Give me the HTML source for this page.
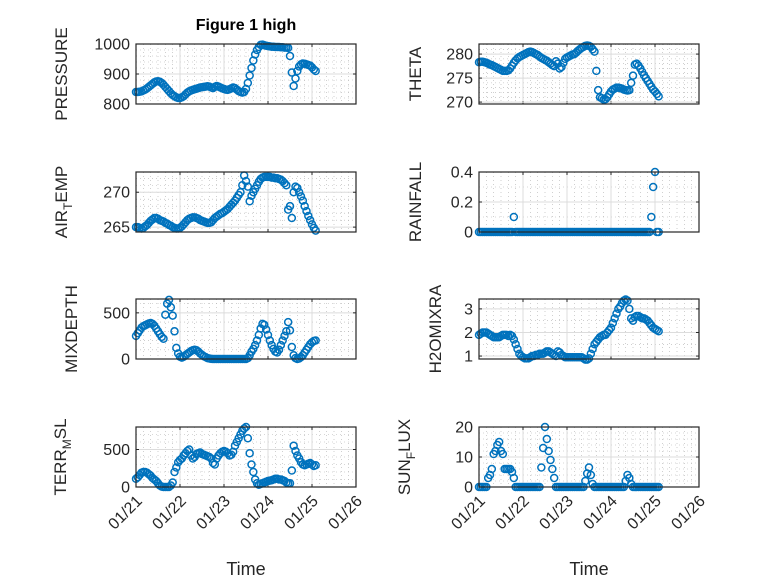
<!DOCTYPE html>
<html><head><meta charset="utf-8"><style>
body{margin:0;background:#fff;}
svg{display:block;font-family:"Liberation Sans",sans-serif;}
</style></head><body>
<svg id="fig" width="778" height="583" viewBox="0 0 778 583">
<rect width="778" height="583" fill="#fff"/>
<text x="246" y="30" font-size="16" font-weight="bold" text-anchor="middle" fill="#000">Figure 1 high</text>
</svg>
<script>
const dayTicks = ["01/21","01/22","01/23","01/24","01/25","01/26"];
const pressure = [840,840,841,842,845,848,852,857,862,867,872,875,876,874,870,864,857,850,843,836,830,826,822,820,
820,822,826,832,838,842,845,847,849,851,853,855,856,857,858,859,858,855,853,857,860,858,855,852,
850,848,847,849,852,855,853,848,843,840,838,840,850,870,895,920,945,965,980,990,997,998,996,994,
993,992,991,991,990,990,990,989,989,988,988,987,960,905,860,885,910,925,932,935,934,932,930,928,922,915,910];
const theta = [278.3,278.4,278.4,278.3,278.2,278.0,277.8,277.7,277.5,277.3,277.1,276.9,276.7,276.5,276.5,276.5,276.6,277.0,277.6,278.2,278.7,279.1,279.4,279.6,
279.8,280.0,280.2,280.4,280.5,280.4,280.2,280.0,279.8,279.5,279.2,279.0,278.8,278.6,278.3,278.0,277.7,277.5,278.5,278.0,277.0,277.3,278.2,279.0,
279.3,279.5,279.7,279.9,280.0,280.3,280.7,281.0,281.3,281.5,281.7,281.8,281.7,281.5,281.0,280.5,276.5,272.5,271.0,270.8,270.5,270.6,271.0,271.6,
272.2,272.6,272.8,273.0,273.0,272.9,272.8,272.6,272.5,272.4,272.5,274.0,275.5,277.8,278.0,277.6,277.0,276.3,275.6,275.0,274.4,273.8,273.2,272.6,272.2,271.7,271.2];
const airTemp = [265.0,265.0,264.9,264.8,264.9,265.1,265.3,265.6,265.9,266.1,266.3,266.3,266.2,266.0,265.9,265.8,265.6,265.5,265.3,265.2,265.0,264.9,264.8,264.8,
264.9,265.1,265.4,265.7,266.0,266.2,266.3,266.4,266.4,266.3,266.2,266.0,265.9,265.8,265.7,265.6,265.6,265.7,266.0,266.3,266.5,266.7,266.9,267.0,
267.2,267.4,267.6,267.9,268.2,268.5,268.8,269.2,269.6,270.0,271.0,272.4,271.6,270.8,268.7,269.5,270.0,270.5,271.0,271.5,271.9,272.1,272.2,272.2,
272.2,272.2,272.1,272.1,272.0,272.0,271.9,271.8,271.6,271.3,271.0,267.5,268.0,266.3,270.0,270.8,270.6,270.0,269.4,268.8,268.0,267.3,266.6,266.0,265.4,264.9,264.5];
const rainfall = [0,0,0,0,0,0,0,0,0,0,0,0,0,0,0,0,0,0,0,0.1,0,0,0,0,
0,0,0,0,0,0,0,0,0,0,0,0,0,0,0,0,0,0,0,0,0,0,0,0,
0,0,0,0,0,0,0,0,0,0,0,0,0,0,0,0,0,0,0,0,0,0,0,0,
0,0,0,0,0,0,0,0,0,0,0,0,0,0,0,0,0,0,0,0,0,0,0.1,0.3,0.4,0,0];
const mixDepth = [250,280,310,340,355,365,375,385,390,380,360,330,300,270,240,220,480,600,640,560,470,300,120,60,
25,15,25,40,55,70,85,95,100,95,80,60,45,30,20,10,5,2,0,0,0,0,0,0,
0,0,0,0,0,0,0,0,0,0,0,0,0,10,40,80,110,150,200,260,330,380,370,320,
260,200,150,110,80,70,100,150,200,250,300,400,310,130,40,10,0,5,20,40,70,100,130,160,180,195,200];
const h2oMix = [1.9,1.95,2.0,2.0,2.0,1.95,1.9,1.85,1.8,1.8,1.8,1.8,1.85,1.9,1.9,1.9,1.85,1.9,1.85,1.7,1.5,1.3,1.1,1.0,
0.95,0.9,0.9,0.9,0.95,1.0,1.0,1.05,1.05,1.1,1.1,1.1,1.15,1.2,1.2,1.15,1.1,1.05,1.0,1.2,1.15,1.05,1.0,0.95,
0.95,0.95,0.95,0.95,0.95,0.95,0.95,0.95,0.95,0.9,0.85,0.85,0.9,1.1,1.3,1.5,1.6,1.7,1.8,1.85,1.9,1.9,2.0,2.1,
2.2,2.4,2.6,2.8,3.0,3.1,3.25,3.35,3.4,3.35,3.0,2.6,2.5,2.65,2.7,2.7,2.65,2.6,2.6,2.55,2.5,2.4,2.3,2.2,2.15,2.1,2.05];
const terrMsl = [110,130,160,190,200,200,190,170,150,120,100,80,50,20,5,0,0,0,0,20,60,200,260,330,
360,380,420,450,480,500,420,380,400,440,450,460,440,430,420,410,400,380,320,300,380,420,450,470,
480,470,450,420,430,470,550,600,650,700,750,780,800,650,450,300,200,100,50,30,40,50,60,70,
80,85,90,100,110,110,100,100,90,80,60,50,50,220,550,480,420,380,330,300,290,300,310,320,300,280,290];
const sunFlux = [0,0,0,0,0,3,4,6,11,12,14,15,12,11,6,6,6,6,5,3,0,0,0,0,
0,0,0,0,0,0,0,0,0,0,6.5,13,20,16,12,9,6,3,0,0,0,0,0,0,
0,0,0,0,0,0,0,0,0,0,2,4.5,6.5,4,1,0,0,0,0,0,0,0,0,0,
0,0,0,0,0,0,0,0,2,4,3,1,0,0,0,0,0,0,0,0,0,0,0,0,0,0,0];
const pressureTicks=[800,900,1000], thetaTicks=[270,275,280], airTicks=[265,270], rainTicks=[0,0.2,0.4],
      mixTicks=[0,500], h2oTicks=[1,2,3], terrTicks=[0,500], sunTicks=[0,10,20];

const NS="http://www.w3.org/2000/svg";
const svg=document.getElementById('fig');
function mk(tag,attrs,parent){const e=document.createElementNS(NS,tag);for(const k in attrs)e.setAttribute(k,attrs[k]);(parent||svg).appendChild(e);return e;}

const panels=[
 {name:'pressure',data:pressure,ticks:pressureTicks,ymin:800,ymax:1000,x:136,y:44,label:'PRESSURE',lx:67,minor:5},
 {name:'theta',data:theta,ticks:thetaTicks,ymin:269.6,ymax:282.1,x:479,y:44,label:'THETA',lx:421,minor:5},
 {name:'air-temp',data:airTemp,ticks:airTicks,ymin:264.3,ymax:272.9,x:136,y:172,label:'AIR_TEMP',lx:67,minor:5},
 {name:'rainfall',data:rainfall,ticks:rainTicks,ymin:0,ymax:0.4,x:479,y:172,label:'RAINFALL',lx:421,minor:2},
 {name:'mixdepth',data:mixDepth,ticks:mixTicks,ymin:0,ymax:650,x:136,y:299,label:'MIXDEPTH',lx:77,minor:5},
 {name:'h2omixra',data:h2oMix,ticks:h2oTicks,ymin:0.875,ymax:3.42,x:479,y:299,label:'H2OMIXRA',lx:441,minor:2},
 {name:'terr-msl',data:terrMsl,ticks:terrTicks,ymin:0,ymax:800,x:136,y:427,label:'TERR_MSL',lx:66,minor:5},
 {name:'sun-flux',data:sunFlux,ticks:sunTicks,ymin:0,ymax:20,x:479,y:427,label:'SUN_FLUX',lx:410,minor:5}
];
const W=220,H=60;
panels.forEach((p,pi)=>{
  const g=mk('g',{});
  
  
  const xs=d=>p.x+d/5*W;
  const ys=v=>p.y+H-(v-p.ymin)/(p.ymax-p.ymin)*H;
  mk('rect',{x:p.x,y:p.y,width:W,height:H,fill:'#fff'},g);
  for(let h=0;h<=120;h+=4){ if(h%24===0)continue; const x=xs(h/24);
    mk('line',{x1:x,x2:x,y1:p.y,y2:p.y+H,stroke:'#b0b0b0','stroke-width':0.6,'stroke-dasharray':'1 3'},g);}
  const step=p.ticks[1]-p.ticks[0], ms=step/p.minor;
  for(let v=p.ticks[0]-step;v<=p.ymax+1e-9;v+=ms){ if(v<p.ymin-1e-9)continue; const y=ys(v);
    mk('line',{x1:p.x,x2:p.x+W,y1:y,y2:y,stroke:'#b0b0b0','stroke-width':0.6,'stroke-dasharray':'1 3'},g);}
  dayTicks.forEach((t,i)=>{const x=xs(i);
    mk('line',{x1:x,x2:x,y1:p.y,y2:p.y+H,stroke:'#dcdcdc','stroke-width':1},g);
    mk('line',{x1:x,x2:x,y1:p.y+H,y2:p.y+H-3,stroke:'#262626','stroke-width':1},g);
    mk('line',{x1:x,x2:x,y1:p.y,y2:p.y+3,stroke:'#262626','stroke-width':1},g);});
  p.ticks.forEach(v=>{const y=ys(v);
    mk('line',{x1:p.x,x2:p.x+W,y1:y,y2:y,stroke:'#dcdcdc','stroke-width':1},g);
    mk('line',{x1:p.x,x2:p.x+3,y1:y,y2:y,stroke:'#262626','stroke-width':1},g);
    mk('line',{x1:p.x+W,x2:p.x+W-3,y1:y,y2:y,stroke:'#262626','stroke-width':1},g);
    const t=mk('text',{x:p.x-6,y:y+5.5,'font-size':16,'text-anchor':'end',fill:'#262626'},g);
    t.textContent=String(v);
    
    
  });
  p.data.forEach((v,h)=>{
    const c=mk('circle',{cx:xs(h/24),cy:ys(v),r:3.5,fill:'none',stroke:'#0072BD','stroke-width':1.5},g);
    
    
  });
  mk('rect',{x:p.x,y:p.y,width:W,height:H,fill:'none',stroke:'#262626','stroke-width':1.2},g);
  const cy=p.y+H/2;
  const lab=mk('text',{x:p.lx,y:cy,'font-size':17,'text-anchor':'middle',fill:'#262626',transform:`rotate(-90 ${p.lx} ${cy})`},g);
  
  
  if(p.label.includes('_')){
    const [a,b]=p.label.split('_');
    const t1=mk('tspan',{},lab); t1.textContent=a;
    const t2=mk('tspan',{'font-size':12,dy:5},lab); t2.textContent=b[0];
    const t3=mk('tspan',{dy:-5},lab); t3.textContent=b.slice(1);
  } else lab.textContent=p.label;
  if(pi>=6){
    dayTicks.forEach((t,i)=>{const x=xs(i)+7, y=p.y+H+15;
      const tt=mk('text',{x:x,y:y,'font-size':16,'text-anchor':'end',fill:'#262626',transform:`rotate(-45 ${x} ${y})`},g);
      tt.textContent=t;
      
      
    });
    const xl=mk('text',{x:p.x+W/2,y:575,'font-size':18,'text-anchor':'middle',fill:'#262626'},g);
    xl.textContent='Time';
    
    
  }
});
</script>
</body></html>
